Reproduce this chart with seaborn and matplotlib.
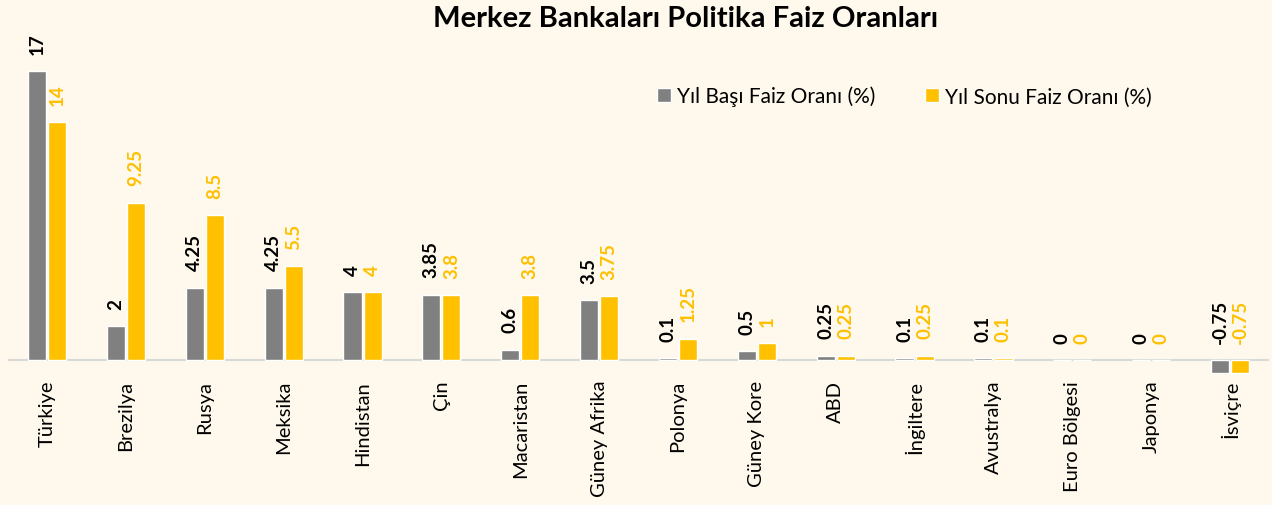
import pandas as pd
import matplotlib.pyplot as plt
import seaborn as sns

# veriler
ulkeler = ["Türkiye", "Brezilya", "Rusya", "Meksika", "Hindistan", "Çin", "Macaristan",
           "Güney Afrika", "Polonya", "Güney Kore", "ABD", "İngiltere", "Avustralya",
           "Euro Bölgesi", "Japonya", "İsviçre"]
yil_basi = [17, 2, 4.25, 4.25, 4, 3.85, 0.6, 3.5, 0.1, 0.5, 0.25, 0.1, 0.1, 0, 0, -0.75]
yil_sonu = [14, 9.25, 8.5, 5.5, 4, 3.8, 3.8, 3.75, 1.25, 1, 0.25, 0.25, 0.1, 0, 0, -0.75]
seri_adlari = ["Yıl Başı Faiz Oranı (%)", "Yıl Sonu Faiz Oranı (%)"]

df = pd.DataFrame({"Ülke": ulkeler, seri_adlari[0]: yil_basi, seri_adlari[1]: yil_sonu})
df_long = df.melt(id_vars="Ülke", var_name="Seri", value_name="Faiz")

bg = "#FEF9EC"
gri = "#808080"
sari = "#FFC000"

sns.set_style("white")
plt.rcParams["font.family"] = ["Lato", "DejaVu Sans"]
plt.rcParams["text.color"] = "black"
plt.rcParams["xtick.color"] = "black"
plt.rcParams["xtick.labelcolor"] = "black"

fig = plt.figure(figsize=(12.72, 5.06), dpi=100, facecolor=bg)
ax = fig.add_axes([0.006, 0.253, 0.992, 0.672], facecolor=bg)

sns.barplot(data=df_long, x="Ülke", y="Faiz", hue="Seri", palette=[gri, sari],
            width=0.51, gap=0.1, ax=ax, saturation=1)

ax.set_ylim(-1, 19)
ax.axhline(0, color="#D9D9D9", lw=1.5, zorder=0)
for s in ax.spines.values():
    s.set_visible(False)
ax.set_yticks([])
ax.set_xlabel("")
ax.set_ylabel("")
ax.tick_params(axis="x", length=0, pad=2, labelsize=14.5, labelcolor="black")
plt.setp(ax.get_xticklabels(), rotation=90, va="top", ha="center")

# değer etiketleri
for cont, renk in zip(ax.containers, ["black", sari]):
    for bar, v in zip(cont, cont.datavalues):
        ax.annotate(f"{v:g}", (bar.get_x() + bar.get_width() / 2, max(v, 0)),
                    xytext=(0, 12.5), textcoords="offset points", rotation=90,
                    ha="center", va="bottom", fontsize=13.5, fontweight="bold", color=renk)

ax.legend(loc="center left", bbox_to_anchor=(0.5, 0.826), ncol=2, frameon=False,
          fontsize=15, handlelength=0.65, handleheight=0.65, handletextpad=0.3,
          columnspacing=2.4, title=None, labelcolor="black")

fig.suptitle("Merkez Bankaları Politika Faiz Oranları", fontsize=21, fontweight="bold",
             x=0.539, y=0.988, color="black")

fig.savefig("out.png", dpi=100, facecolor=bg)
